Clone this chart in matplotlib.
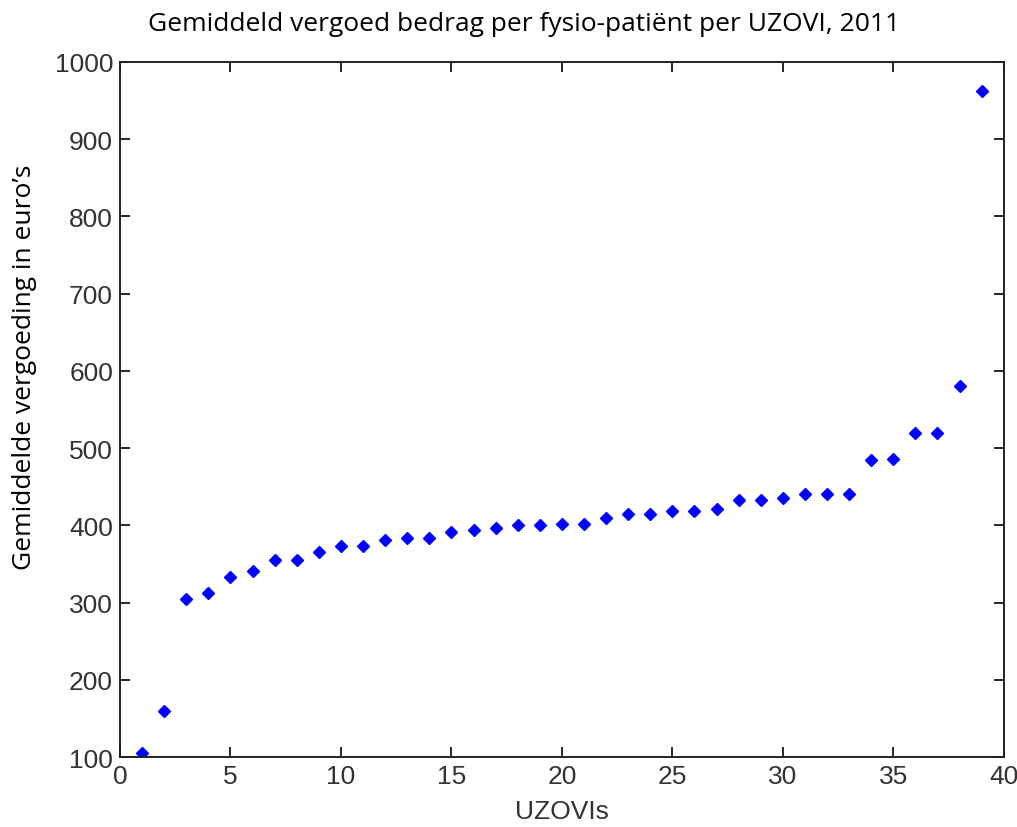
import matplotlib.pyplot as plt

# average reimbursement per physio patient, per insurer (UZOVI), 2011
uzovi = list(range(1, 40))
bedrag = [105, 160, 305, 312, 333, 341, 355, 355, 365, 373,
          373, 381, 383, 383, 392, 394, 397, 400, 400, 402,
          402, 410, 415, 415, 418, 418, 421, 433, 433, 436,
          441, 441, 441, 484, 486, 520, 520, 581, 963]

xticks = list(range(0, 41, 5))
yticks = list(range(100, 1001, 100))

tickfont = "Liberation Sans"

fig = plt.figure(figsize=(10.17, 8.28), dpi=100)
ax = fig.add_axes([0.118, 0.0845, 0.869, 0.8395])

ax.plot(uzovi, bedrag, linestyle="none", marker="D", markersize=5.8,
        color="#0000ff", markeredgecolor="#0000ff")

ax.set_xlim(0, 40)
ax.set_ylim(100, 1000)
ax.set_xticks(xticks)
ax.set_yticks(yticks)
ax.tick_params(direction="in", top=True, right=True, length=7, width=1.2,
               labelsize=19, labelcolor="#333333", pad=5)
for lbl in ax.get_xticklabels() + ax.get_yticklabels():
    lbl.set_family(tickfont)
for spine in ax.spines.values():
    spine.set_linewidth(1.4)
    spine.set_color("#222222")

ax.set_xlabel("UZOVIs", fontsize=19, color="#333333",
              family=tickfont, labelpad=8)
fig.text(0.024, 0.556, "Gemiddelde vergoeding in euro\u2019s", rotation=90,
         fontsize=19, family="Open Sans", ha="center", va="center")
fig.text(0.515, 0.970, "Gemiddeld vergoed bedrag per fysio-pati\u00ebnt per UZOVI, 2011",
         fontsize=19, family="Open Sans", ha="center", va="center")

fig.savefig("out.png", dpi=100, facecolor="white")
